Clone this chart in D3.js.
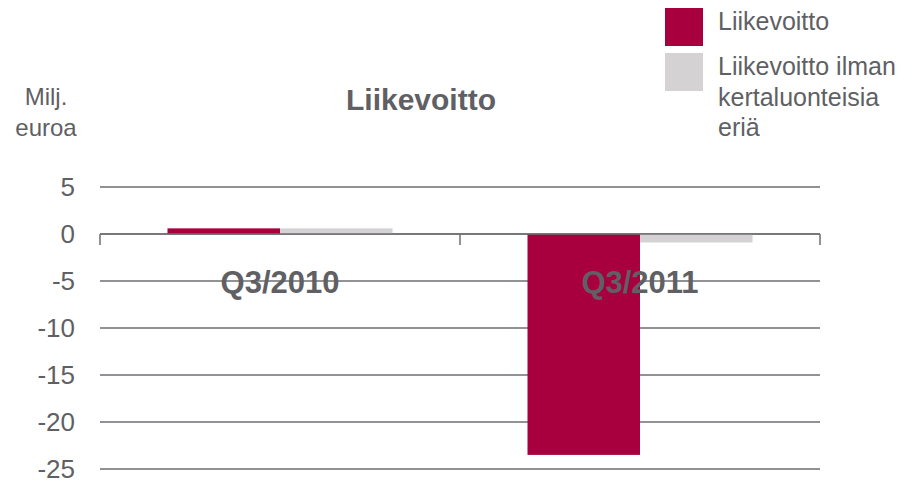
<!DOCTYPE html>
<html>
<head>
<meta charset="utf-8">
<script src="https://cdn.jsdelivr.net/npm/d3@7"></script>
<style>
	body { margin: 0; background: #fff; }
	text { font-family: "Liberation Sans", Arial, sans-serif; fill: #5f5f64; }
</style>
</head>
<body>
<svg id="chart" width="920" height="483"></svg>
<script>
var categories = ["Q3/2010", "Q3/2011"];
var seriesNames = ["Liikevoitto", "Liikevoitto ilman kertaluonteisia eriä"];
var liikevoitto = [0.6, -23.5];
var liikevoittoIlman = [0.6, -0.9];
var yTicks = [5, 0, -5, -10, -15, -20, -25];

var colors = ["#a8003f", "#d4d2d3"];
var series = [liikevoitto, liikevoittoIlman];

var svg = d3.select("#chart");

var x0 = d3.scaleBand()
	.domain(categories)
	.range([100, 820])
	.paddingInner(0)
	.paddingOuter(0);

var x1 = d3.scaleBand()
	.domain(d3.range(series.length))
	.range([x0.bandwidth() * 0.1875, x0.bandwidth() * 0.8125]);

var y = d3.scaleLinear()
	.domain([-25, 5])
	.range([469, 187]);

// gridlines
svg.append("g")
	.selectAll("line")
	.data(yTicks)
	.enter().append("line")
	.attr("x1", 100)
	.attr("x2", 820)
	.attr("y1", function (d) { return y(d); })
	.attr("y2", function (d) { return y(d); })
	.attr("stroke", "#6e6e73")
	.attr("stroke-width", 1.5);

// y labels
svg.append("g")
	.selectAll("text")
	.data(yTicks)
	.enter().append("text")
	.attr("x", 75)
	.attr("y", function (d) { return y(d); })
	.attr("dy", "0.36em")
	.attr("text-anchor", "end")
	.style("font-size", "26px")
	.text(function (d) { return d; });

// bars
var groups = svg.append("g")
	.selectAll("g")
	.data(categories)
	.enter().append("g")
	.attr("transform", function (d) { return "translate(" + x0(d) + ",0)"; });

groups.selectAll("rect")
	.data(function (d, i) {
		return series.map(function (s, k) { return { k: k, v: s[i] }; });
	})
	.enter().append("rect")
	.attr("x", function (d) { return x1(d.k); })
	.attr("width", x1.bandwidth())
	.attr("y", function (d) { return y(Math.max(0, d.v)); })
	.attr("height", function (d) { return Math.abs(y(d.v) - y(0)); })
	.attr("fill", function (d) { return colors[d.k]; });

// category axis at zero
var xAxis = svg.append("g")
	.attr("transform", "translate(0," + y(0) + ")");

xAxis.append("line")
	.attr("x1", 100)
	.attr("x2", 820)
	.attr("stroke", "#6e6e73")
	.attr("stroke-width", 1.5);

xAxis.selectAll(".tick")
	.data(categories.concat(["end"]))
	.enter().append("line")
	.attr("x1", function (d, i) { return 100 + i * x0.step(); })
	.attr("x2", function (d, i) { return 100 + i * x0.step(); })
	.attr("y1", 0)
	.attr("y2", 11)
	.attr("stroke", "#6e6e73")
	.attr("stroke-width", 1.5);

xAxis.selectAll(".cat")
	.data(categories)
	.enter().append("text")
	.attr("x", function (d) { return x0(d) + x0.bandwidth() / 2; })
	.attr("y", 59)
	.attr("text-anchor", "middle")
	.style("font-size", "31px")
	.style("font-weight", "bold")
	.text(function (d) { return d; });

// title
svg.append("text")
	.attr("x", 421)
	.attr("y", 110)
	.attr("text-anchor", "middle")
	.style("font-size", "30px")
	.style("font-weight", "bold")
	.text("Liikevoitto");

// unit
svg.append("text")
	.attr("x", 45)
	.attr("y", 105)
	.attr("text-anchor", "middle")
	.style("font-size", "24px")
	.selectAll("tspan")
	.data(["Milj.", "euroa"])
	.enter().append("tspan")
	.attr("x", 46)
	.attr("dy", function (d, i) { return i ? 31 : 0; })
	.text(function (d) { return d; });

// legend
var legendLines = [["Liikevoitto"], ["Liikevoitto ilman", "kertaluonteisia", "eriä"]];
var legend = svg.append("g")
	.selectAll("g")
	.data(legendLines)
	.enter().append("g")
	.attr("transform", function (d, i) { return "translate(665," + (8 + i * 45) + ")"; });

legend.append("rect")
	.attr("width", 38)
	.attr("height", 38)
	.attr("fill", function (d, i) { return colors[i]; });

legend.append("text")
	.attr("x", 53)
	.attr("y", 22)
	.style("font-size", "25px")
	.selectAll("tspan")
	.data(function (d) { return d; })
	.enter().append("tspan")
	.attr("x", 53)
	.attr("dy", function (d, i) { return i ? 30.5 : 0; })
	.text(function (d) { return d; });
</script>
</body>
</html>
